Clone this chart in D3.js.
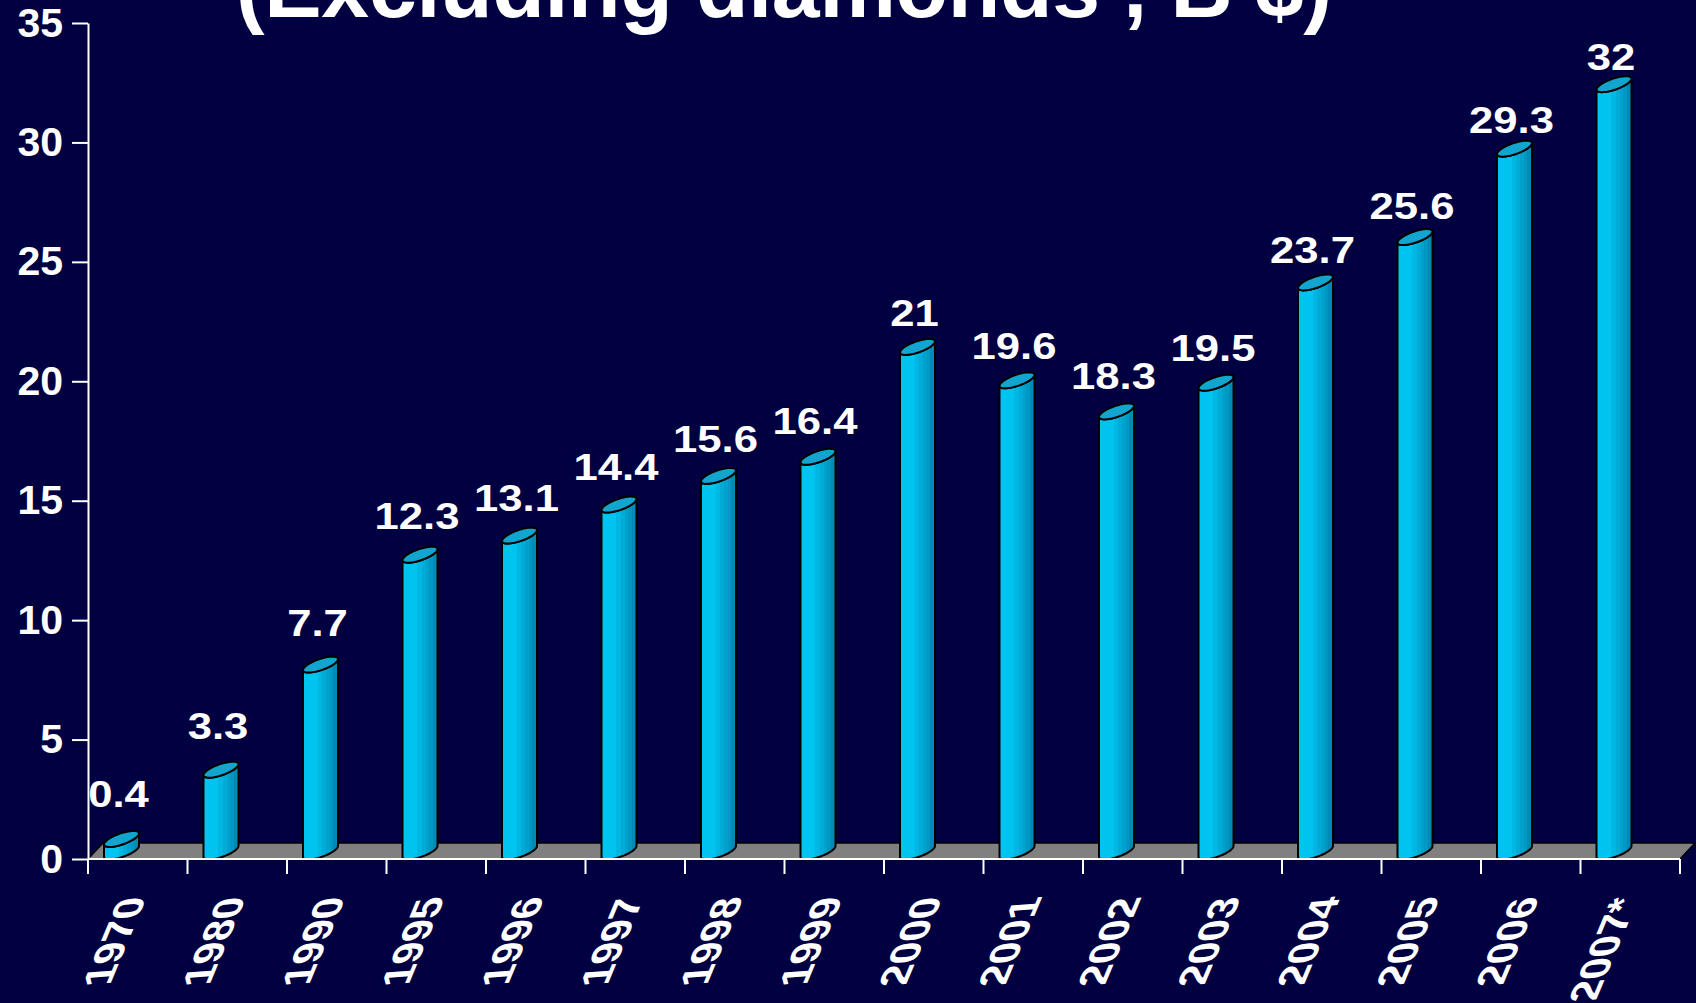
<!DOCTYPE html>
<html>
<head>
<meta charset="utf-8">
<script src="https://cdn.jsdelivr.net/npm/d3@7"></script>
<style>
  html, body { margin: 0; padding: 0; background: #010040; }
  svg { display: block; }
  text { font-family: "Liberation Sans", Arial, sans-serif; font-weight: bold; fill: #fff; }
</style>
</head>
<body>
<svg id="chart" width="1696" height="1003"></svg>
<script>
// data
const years = ["1970", "1980", "1990", "1995", "1996", "1997", "1998", "1999",
               "2000", "2001", "2002", "2003", "2004", "2005", "2006", "2007*"];
const values = [0.4, 3.3, 7.7, 12.3, 13.1, 14.4, 15.6, 16.4,
                21, 19.6, 18.3, 19.5, 23.7, 25.6, 29.3, 32];
const yTicks = [0, 5, 10, 15, 20, 25, 30, 35];
const title = "(Excluding diamonds , B $)";

const data = years.map((y, i) => ({ year: y, value: values[i] }));

const svg = d3.select("#chart");

const x = d3.scaleBand().domain(years).range([88, 1680]);
const y = d3.scaleLinear().domain([0, 35]).range([859, 23]);
// data labels sit on a slightly flatter plane (3d look)
const labelY = d3.scaleLinear().domain([0, 35]).range([816, 0]);

const depth = { dx: 15, dy: -16 };
const barOff = 16, barW = 35;

// gradient for the column body, banded like the original
const defs = svg.append("defs");
const grad = defs.append("linearGradient").attr("id", "body")
  .attr("x1", 0).attr("x2", 1).attr("y1", 0).attr("y2", 0);
const bands = [
  [0, 0.42, "#00c4f0"], [0.42, 0.55, "#00b7e4"], [0.55, 0.66, "#00abd8"],
  [0.66, 0.76, "#00a1cd"], [0.76, 0.87, "#0097c3"], [0.87, 1, "#008bb6"]
];
bands.forEach(b => {
  grad.append("stop").attr("offset", b[0]).attr("stop-color", b[2]);
  grad.append("stop").attr("offset", b[1]).attr("stop-color", b[2]);
});

// title (only the lower part is on screen)
svg.append("text")
  .attr("x", 236).attr("y", 17)
  .attr("textLength", 1096)
  .style("font-size", "86px")
  .text(title);

// floor
const x0 = x.range()[0], x1 = x.range()[1], yz = y(0);
svg.append("path")
  .attr("d", `M${x0},${yz}L${x0 + depth.dx},${yz + depth.dy}L${x1 + depth.dx},${yz + depth.dy}L${x1},${yz}Z`)
  .attr("fill", "#808080")
  .attr("stroke", "#000")
  .attr("stroke-width", 1.5);

// ellipse helper: conjugate half diameters A=(w/2,-5.5), B=(0,5.8)
function ell(bx, yl, t) {
  const cx = bx + barW / 2, cy = yl - 5.5;
  return [cx + (barW / 2) * Math.cos(t), cy - 5.5 * Math.cos(t) + 5.8 * Math.sin(t)];
}
const steps = d3.range(0, 25).map(i => i / 24 * Math.PI);

function bodyPath(d) {
  const bx = x(d.year) + barOff;
  const yt = y(d.value) - 5, yb = yz - 2;
  const pts = [];
  pts.push(ell(bx, yt, Math.PI));
  // bottom front arc, left to right
  steps.slice().reverse().forEach(t => pts.push(ell(bx, yb, t)));
  // top front arc, right to left
  steps.forEach(t => pts.push(ell(bx, yt, t)));
  return d3.line()(pts) + "Z";
}
function topPath(d) {
  const bx = x(d.year) + barOff;
  const yt = y(d.value) - 5;
  const pts = d3.range(0, 49).map(i => ell(bx, yt, i / 48 * 2 * Math.PI));
  return d3.line()(pts) + "Z";
}

const bars = svg.append("g").selectAll("g").data(data).enter().append("g");
bars.append("path")
  .attr("d", bodyPath)
  .attr("fill", "url(#body)")
  .attr("stroke", "#000")
  .attr("stroke-width", 2)
  .attr("stroke-linejoin", "round");
bars.append("path")
  .attr("d", topPath)
  .attr("fill", "#12a5cf")
  .attr("stroke", "#000")
  .attr("stroke-width", 2);

// value labels, a little stretched sideways like the original
svg.append("g").selectAll("text").data(data).enter().append("text")
  .attr("transform", d => `translate(${x(d.year) + barOff + barW / 2 - 3},${labelY(d.value)}) scale(1.18,1)`)
  .attr("text-anchor", "middle")
  .style("font-size", "37px")
  .text(d => String(d.value));

// y axis
const yAxis = svg.append("g")
  .attr("transform", `translate(${x0},0)`)
  .call(d3.axisLeft(y).tickValues(yTicks).tickSize(16).tickSizeOuter(0).tickPadding(9));
yAxis.select(".domain").attr("stroke", "#fff").attr("stroke-width", 2);
yAxis.selectAll(".tick line").attr("stroke", "#fff").attr("stroke-width", 2);
yAxis.selectAll(".tick text")
  .style("font-size", "41px")
  .style("font-family", "'Liberation Sans', Arial, sans-serif")
  .style("font-weight", "bold")
  .attr("fill", "#fff");

// x axis line and ticks at category edges
svg.append("line")
  .attr("x1", x0).attr("x2", x1).attr("y1", yz).attr("y2", yz)
  .attr("stroke", "#fff").attr("stroke-width", 2);
const edges = years.map(d => x(d)).concat([x1]);
svg.append("g").selectAll("line").data(edges).enter().append("line")
  .attr("x1", d => d).attr("x2", d => d)
  .attr("y1", yz).attr("y2", yz + 15)
  .attr("stroke", "#fff").attr("stroke-width", 2);

// slanted category labels
svg.append("g").selectAll("text").data(years).enter().append("text")
  .attr("text-anchor", "end")
  .attr("dy", "0.35em")
  .style("font-size", "41px")
  .attr("transform", d => {
    const cx = x(d) + x.bandwidth() / 2 - 5;
    return `matrix(0.41,-0.98,1.0,-0.08,${cx},${897})`;
  })
  .text(d => d);
</script>
</body>
</html>
